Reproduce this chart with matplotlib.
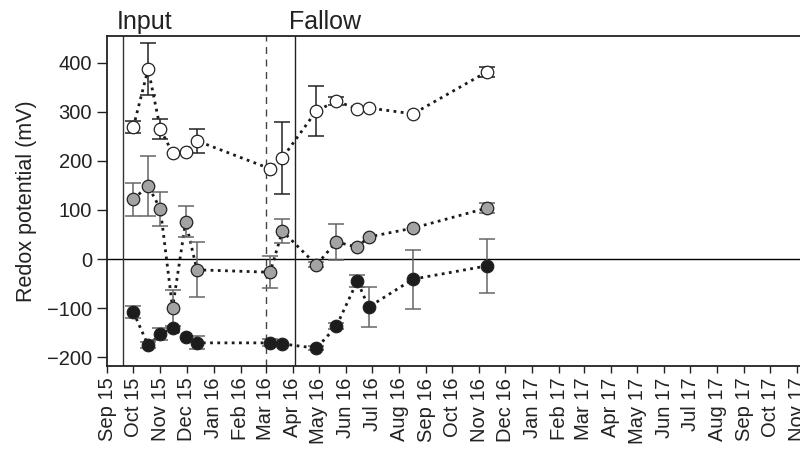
import numpy as np
import pandas as pd
import matplotlib
matplotlib.use("Agg")
import matplotlib.pyplot as plt
import matplotlib.dates as mdates
import matplotlib.transforms as mtransforms

plt.rcParams["font.family"] = ["Liberation Sans", "DejaVu Sans"]

dates = pd.to_datetime([
    "2015-10-01", "2015-10-18", "2015-11-01", "2015-11-15", "2015-11-30",
    "2015-12-13", "2016-03-06", "2016-03-20", "2016-04-28", "2016-05-21",
    "2016-06-14", "2016-06-27", "2016-08-17", "2016-11-10",
])

white_mean = [269, 388, 265, 216, 218, 241, 184, 206, 302, 322, 306, 308, 296, 382]
white_err = [13, 53, 21, np.nan, np.nan, 25, np.nan, 74, 51, 8, np.nan, np.nan, np.nan, 10]

grey_mean = [122, 149, 102, -100, 76, -22, -27, 57, -12, 35, 24, 45, 63, 104]
grey_err = [34, 61, 34, 37, 32, 56, 33, 25, 5, 36, np.nan, np.nan, np.nan, 10]

black_mean = [-108, -176, -153, -141, -159, -171, -171, -173, -182, -137, -45, -98, -41, -14]
black_err = [13, 6, 12, np.nan, np.nan, 13, 7, np.nan, 4, 6, 12, 41, 60, 55]

input_start = pd.Timestamp("2015-09-19")
dashed_date = pd.Timestamp("2016-03-01")
fallow_start = pd.Timestamp("2016-04-03")

fig = plt.figure(figsize=(8, 4.54), dpi=100)
ax = fig.add_axes([0.134, 0.194, 0.866, 0.727])

series = [
    (white_mean, white_err, "white", "#222222"),
    (grey_mean, grey_err, "#a3a3a3", "#666666"),
    (black_mean, black_err, "#1c1c1c", "#666666"),
]

for mean, err, fc, ec in series:
    ax.plot(dates, mean, linestyle=(0, (1, 1.6)), color="#1a1a1a", lw=2.0, zorder=2)
    _, caps, bars = ax.errorbar(dates, mean, yerr=err, fmt="none", ecolor=ec,
                                elinewidth=1.1, capsize=6, capthick=1.1, zorder=3)
    for c in caps:
        c.set_color("#222222")
    ax.plot(dates, mean, "o", markersize=9, markerfacecolor=fc,
            markeredgecolor="#222222", markeredgewidth=0.9, zorder=4, linestyle="none")

ax.axhline(0, color="black", lw=1.0, zorder=1)
ax.axvline(input_start, color="#333333", lw=1.0, zorder=1)
ax.axvline(fallow_start, color="#222222", lw=1.0, zorder=1)
ax.axvline(dashed_date, color="#444444", lw=1.0, ls=(0, (5, 4)), zorder=1)

ax.set_xlim(pd.Timestamp("2015-09-01"), pd.Timestamp("2017-11-04"))
ax.set_ylim(-218, 455)
ax.set_yticks([-200, -100, 0, 100, 200, 300, 400])

ax.xaxis.set_major_locator(mdates.MonthLocator())
ax.xaxis.set_major_formatter(mdates.DateFormatter("%b %y"))
plt.setp(ax.get_xticklabels(), rotation=90)

ax.tick_params(direction="out", length=5, width=1.0, labelsize=14.5, colors="#222222")
ax.tick_params(axis="y", length=7, pad=4)
ax.set_ylabel("Redox potential (mV)", fontsize=15.5, color="#222222", labelpad=7)

for side in ["left", "bottom", "top"]:
    ax.spines[side].set_linewidth(1.3)
    ax.spines[side].set_color("#222222")
ax.spines["right"].set_visible(False)

trans = mtransforms.blended_transform_factory(ax.transData, ax.transAxes)
ax.text(pd.Timestamp("2015-09-12"), 1.02, "Input", transform=trans,
        fontsize=18, ha="left", va="baseline", color="#222222")
ax.text(pd.Timestamp("2016-03-28"), 1.02, "Fallow", transform=trans,
        fontsize=18, ha="left", va="baseline", color="#222222")

plt.savefig("out.png", dpi=100)
